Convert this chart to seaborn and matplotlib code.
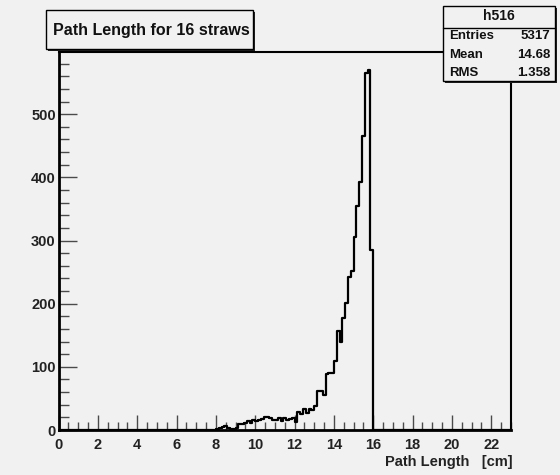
import numpy as np
import pandas as pd
import matplotlib
matplotlib.use("Agg")
import matplotlib.pyplot as plt
from matplotlib.patches import Rectangle
from matplotlib.lines import Line2D
from matplotlib.ticker import MultipleLocator
import seaborn as sns

# Histogram h516: path length through 16 straws, 161 bins on [0, 23] cm
x_min, x_max, n_bins = 0.0, 23.0, 161
first_filled_bin = 56
counts_filled = [
    1, 3, 5, 7, 3, 2, 2, 3, 9, 10,
    11, 15, 11, 16, 14, 16, 17, 20, 21, 19,
    16, 16, 19, 15, 19, 16, 17, 19, 13, 29,
    26, 33, 27, 34, 31, 38, 61, 61, 55, 89,
    90, 90, 110, 157, 140, 177, 201, 243, 252, 306,
    354, 393, 465, 565, 570, 285,
]
hist_name = "h516"
stats_labels = ["Entries", "Mean", "RMS"]
stats_values = ["5317", "14.68", "1.358"]
title_text = "Path Length for 16 straws"
x_label = "Path Length   [cm]"

edges = np.linspace(x_min, x_max, n_bins + 1)
centers = 0.5 * (edges[:-1] + edges[1:])
counts = np.zeros(n_bins)
counts[first_filled_bin:first_filled_bin + len(counts_filled)] = counts_filled
df = pd.DataFrame({"path_length": centers, "entries": counts})

BG = "#f1f1f1"
W, H = 560, 475
sns.set_theme(style="white")
plt.rcParams["font.family"] = ["Liberation Sans", "DejaVu Sans"]
plt.rcParams["font.weight"] = "bold"

fig = plt.figure(figsize=(W / 100, H / 100), dpi=100, facecolor=BG)
# frame: x from 58.5 to 511 px, y from 52 to 430 px (top-left origin)
ax = fig.add_axes([58.5 / W, 1 - 430 / H, (511 - 58.5) / W, (430 - 52) / H])
ax.set_facecolor(BG)

sns.histplot(data=df, x="path_length", weights="entries", bins=edges.tolist(),
             element="step", fill=False, color="black", linewidth=1.6, ax=ax)

ax.set_xlim(x_min, x_max)
ax.set_ylim(0, 598.5)
ax.set_xlabel("")
ax.set_ylabel("")

for s in ax.spines.values():
    s.set_color("black")
    s.set_linewidth(1.5)
    s.set_visible(True)
ax.spines["left"].set_linewidth(2.0)
ax.spines["bottom"].set_linewidth(2.0)

ax.xaxis.set_major_locator(MultipleLocator(2))
ax.xaxis.set_minor_locator(MultipleLocator(0.5))
ax.yaxis.set_major_locator(MultipleLocator(100))
ax.yaxis.set_minor_locator(MultipleLocator(20))
ax.tick_params(axis="both", which="both", direction="in", color="#4a4a4a",
               bottom=True, left=True, top=False, right=False)
ax.tick_params(axis="x", which="major", length=11, width=1.0, pad=6, labelsize=10.5)
ax.tick_params(axis="x", which="minor", length=6, width=1.0)
ax.tick_params(axis="y", which="major", length=13, width=1.0, pad=2, labelsize=10.5)
ax.tick_params(axis="y", which="minor", length=7, width=1.0)
for lab in ax.get_xticklabels() + ax.get_yticklabels():
    lab.set_fontweight("bold")
    lab.set_color("#222222")

fig.text(513 / W, 1 - 462 / H, x_label, ha="right", va="center",
         fontsize=10.5, fontweight="bold", color="#222222")


def fig_box(x0, y0, x1, y1, shadow=2.0):
    """Pave with a drop shadow, given in pixel coords from the top-left."""
    sh = Rectangle(((x0 + shadow) / W, 1 - (y1 + shadow) / H),
                   (x1 - x0) / W, (y1 - y0) / H, transform=fig.transFigure,
                   facecolor="#222222", edgecolor="none", zorder=10)
    bx = Rectangle((x0 / W, 1 - y1 / H), (x1 - x0) / W, (y1 - y0) / H,
                   transform=fig.transFigure, facecolor=BG, edgecolor="black",
                   linewidth=1.0, zorder=11)
    fig.add_artist(sh)
    fig.add_artist(bx)


# title pave
fig_box(46, 10, 253, 49)
fig.text(151 / W, 1 - 30.5 / H, title_text, ha="center", va="center",
         fontsize=11.5, fontweight="bold", color="#111111", zorder=12)

# statistics pave
fig_box(443, 6, 555, 81, shadow=1.5)
fig.add_artist(Line2D([443 / W, 555 / W], [1 - 27.5 / H, 1 - 27.5 / H],
                      transform=fig.transFigure, color="black", lw=1.0, zorder=12))
fig.text(499 / W, 1 - 16.5 / H, hist_name, ha="center", va="center",
         fontsize=10, fontweight="bold", color="#111111", zorder=12)
for i, (lab, val) in enumerate(zip(stats_labels, stats_values)):
    yy = 1 - (36 + 18.5 * i) / H
    fig.text(449 / W, yy, lab, ha="left", va="center", fontsize=9.5,
             fontweight="bold", color="#111111", zorder=12)
    fig.text(550 / W, yy, val, ha="right", va="center", fontsize=9.5,
             fontweight="bold", color="#111111", zorder=12)

fig.savefig("out.png", dpi=100, facecolor=BG)
